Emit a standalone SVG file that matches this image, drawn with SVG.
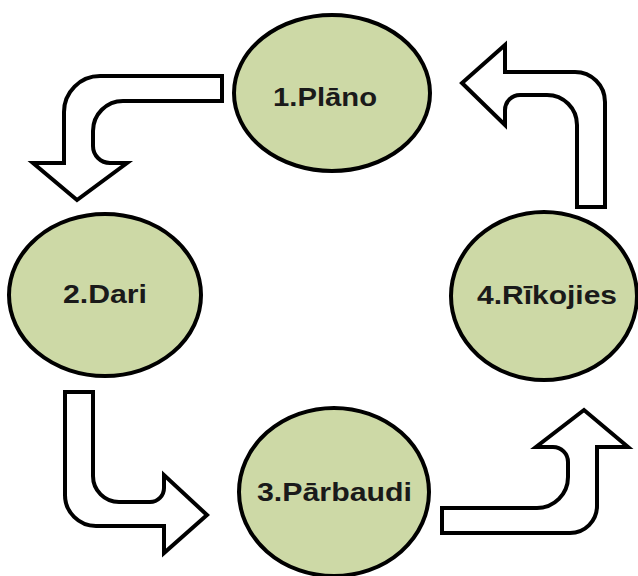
<svg xmlns="http://www.w3.org/2000/svg" width="638" height="576" viewBox="0 0 638 576">
  <style>
    .node ellipse { fill: #cdd9a6; stroke: #000; stroke-width: 4; }
    .node text { font-family: "Liberation Sans", Arial, sans-serif; font-weight: bold; font-size: 26px; fill: #1a1a1a; text-anchor: middle; }
    .arrow { fill: #fff; stroke: #000; stroke-width: 4; stroke-linejoin: miter; }
  </style>
  <rect width="638" height="576" fill="#fff"/>

  <g id="connectors">
    <!-- Plan -> Do -->
    <path id="arrow-1-2" class="arrow" d="M 222 76 L 100 76 A 36 36 0 0 0 64 112 L 64 163 L 33 163 L 77 200 L 127 163 L 110 163 A 17 17 0 0 1 93 146 L 93 131 A 30 30 0 0 1 123 101 L 222 101 Z"/>
    <!-- Do -> Check -->
    <path id="arrow-2-3" class="arrow" d="M 65 392 L 93 392 L 93 476 A 26 26 0 0 0 119 502 L 150 502 A 14 14 0 0 0 164 488 L 164 475 L 207 515 L 164 553 L 164 526 L 96 526 A 31 31 0 0 1 65 495 Z"/>
    <!-- Check -> Act -->
    <path id="arrow-3-4" class="arrow" d="M 442 508 L 537 508 A 31 31 0 0 0 568 477 L 568 462 A 15 15 0 0 0 553 447 L 536 447 L 584 410 L 628 447 L 597 447 L 597 506 A 27 27 0 0 1 570 533 L 442 533 Z"/>
    <!-- Act -> Plan -->
    <path id="arrow-4-1" class="arrow" d="M 577 207 L 605 207 L 605 102 A 30 30 0 0 0 575 72 L 505 72 L 505 45 L 462 83 L 505 125 L 505 110 A 15 15 0 0 1 520 95 L 547 95 A 30 30 0 0 1 577 125 Z"/>
  </g>

  <g id="node-plano" class="node">
    <ellipse cx="332" cy="93" rx="98" ry="78"/>
    <text x="325" y="106" textLength="104" lengthAdjust="spacingAndGlyphs">1.Plāno</text>
  </g>
  <g id="node-dari" class="node">
    <ellipse cx="105" cy="295" rx="96" ry="81"/>
    <text x="105" y="303" textLength="84" lengthAdjust="spacingAndGlyphs">2.Dari</text>
  </g>
  <g id="node-parbaudi" class="node">
    <ellipse cx="334" cy="492" rx="95" ry="84"/>
    <text x="334.5" y="501" textLength="155" lengthAdjust="spacingAndGlyphs">3.Pārbaudi</text>
  </g>
  <g id="node-rikojies" class="node">
    <ellipse cx="544" cy="296" rx="93" ry="84"/>
    <text x="547" y="304" textLength="140" lengthAdjust="spacingAndGlyphs">4.Rīkojies</text>
  </g>
</svg>
